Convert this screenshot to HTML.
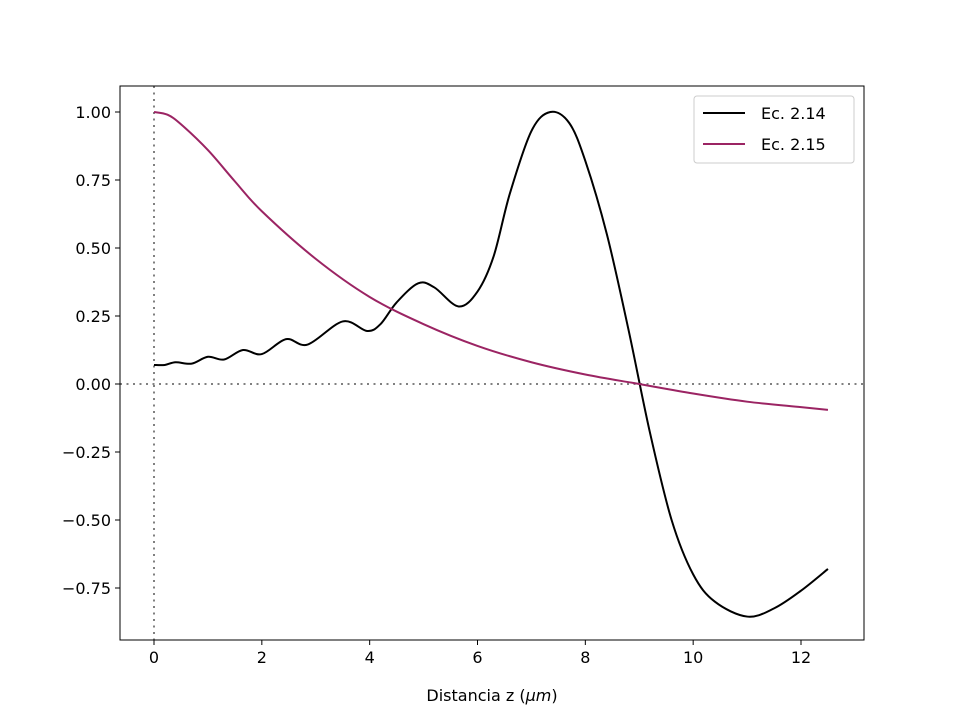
<!DOCTYPE html>
<html><head><meta charset="utf-8"><style>
body{margin:0;background:#fff}
svg text{font-family:"DejaVu Sans","Liberation Sans",sans-serif;font-size:16px;fill:#000}
</style></head><body>
<svg id="c" width="960" height="720" xmlns="http://www.w3.org/2000/svg"></svg>
<script>
const xTicks=[0,2,4,6,8,10,12];
const yTicks=[-0.75,-0.5,-0.25,0,0.25,0.5,0.75,1.0];
const yTickLabels=["\u22120.75","\u22120.50","\u22120.25","0.00","0.25","0.50","0.75","1.00"];
const blackX=[0,0.2,0.4,0.7,1.0,1.3,1.65,2.0,2.45,2.85,3.5,3.95,4.2,4.5,4.9,5.2,5.65,6.0,6.3,6.6,7.0,7.35,7.7,8.0,8.4,8.8,9.2,9.6,10.0,10.4,11.0,11.5,12.0,12.5];
const blackY=[0.07,0.07,0.08,0.075,0.10,0.09,0.125,0.11,0.165,0.145,0.23,0.195,0.22,0.30,0.37,0.355,0.285,0.34,0.47,0.70,0.93,1.0,0.96,0.82,0.55,0.2,-0.18,-0.5,-0.7,-0.8,-0.855,-0.825,-0.76,-0.68];
const purpX=[0,0.25,0.5,1,1.5,2,3,4,5,6,7,8,9,10,11,12,12.5];
const purpY=[1.0,0.99,0.955,0.86,0.745,0.635,0.46,0.32,0.22,0.14,0.08,0.035,0.0,-0.035,-0.065,-0.085,-0.095];
const L=120,R=864,T=86,B=640;
const sx=v=>154+v*(801-154)/12;
const sy=v=>384-v*272;
const svg=document.getElementById('c');
const NS='http://www.w3.org/2000/svg';
function mk(t,a,p){const e=document.createElementNS(NS,t);for(const k in a)e.setAttribute(k,a[k]);(p||svg).appendChild(e);return e;}
function spline(xs,ys){const P=xs.map((x,i)=>[sx(x),sy(ys[i])]);let d='M'+P[0][0]+','+P[0][1];
for(let i=0;i<P.length-1;i++){const p0=P[Math.max(i-1,0)],p1=P[i],p2=P[i+1],p3=P[Math.min(i+2,P.length-1)];
const c1=[p1[0]+(p2[0]-p0[0])/6,p1[1]+(p2[1]-p0[1])/6],c2=[p2[0]-(p3[0]-p1[0])/6,p2[1]-(p3[1]-p1[1])/6];
d+=` C${c1[0]},${c1[1]} ${c2[0]},${c2[1]} ${p2[0]},${p2[1]}`;}return d;}
let e=mk('line',{x1:L,x2:R,y1:sy(0),y2:sy(0),stroke:'#808080','stroke-width':2,'stroke-dasharray':'2,4.5'});

e=mk('line',{x1:sx(0),x2:sx(0),y1:T,y2:B,stroke:'#808080','stroke-width':2,'stroke-dasharray':'2,4.5'});

e=mk('path',{d:spline(blackX,blackY),fill:'none',stroke:'#000','stroke-width':2});

e=mk('path',{d:spline(purpX,purpY),fill:'none',stroke:'#9b2463','stroke-width':2});

e=mk('rect',{x:L,y:T,width:R-L,height:B-T,fill:'none',stroke:'#000','stroke-width':1});

xTicks.forEach(v=>{const x=sx(v);
let t=mk('line',{x1:x,x2:x,y1:B,y2:B+5,stroke:'#000'});
t=mk('text',{x:x,y:B+23,'text-anchor':'middle'});t.textContent=v;});
yTicks.forEach((v,i)=>{const y=sy(v);
let t=mk('line',{x1:L-5,x2:L,y1:y,y2:y,stroke:'#000'});
t=mk('text',{x:L-9,y:y+6,'text-anchor':'end'});t.textContent=yTickLabels[i];});
e=mk('text',{x:492,y:701,'text-anchor':'middle'});e.innerHTML='Distancia z (<tspan font-style="italic">μm</tspan>)';

const g=mk('g',{});
mk('rect',{x:694,y:96,width:160,height:67,rx:3,fill:'#fff',stroke:'#ccc'},g);
[['Ec. 2.14','#000',113],['Ec. 2.15','#9b2463',144]].forEach(([n,c,y])=>{
let l=mk('line',{x1:703,x2:745,y1:y,y2:y,stroke:c,'stroke-width':2},g);
let t=mk('text',{x:761,y:y+6},g);t.textContent=n;});
</script>
</body></html>
